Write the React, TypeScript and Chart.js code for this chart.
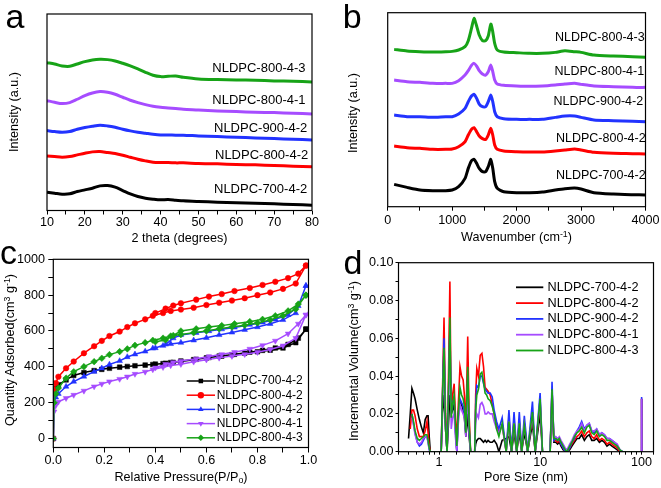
import React, { useEffect, useRef } from 'react';
import { Chart, registerables } from 'chart.js';

Chart.register(...registerables);

const FONT = "'Liberation Sans', Arial, Helvetica, sans-serif";

// ---------- shared series info ----------
const sampleNames = ['NLDPC-700-4-2', 'NLDPC-800-4-2', 'NLDPC-900-4-2', 'NLDPC-800-4-1', 'NLDPC-800-4-3'];
const sampleColors = ['#000000', '#ff0000', '#2233ff', '#a64cff', '#17a317'];
const drawOrder = [5, 4, 3, 2, 1];
const markerStyles = ['rect', 'circle', 'triangle', 'triangleDown', 'rectRot'];

// ---------- (a) XRD ----------
const xrdAngle = [10, 12, 14, 16, 18, 20, 22, 24, 26, 28, 30, 32, 34, 36, 38, 40, 42, 44, 46, 50, 55, 60, 65, 70, 75, 80];
const xrd700_4_2 = [55, 52, 49, 50, 57, 62, 67, 74, 75, 70, 60, 50, 42, 37, 34, 32, 33, 31, 29, 27, 25, 23, 22, 20, 18, 16];
const xrd800_4_2 = [164, 162, 160, 162, 167, 172, 176, 177, 174, 171, 166, 160, 154, 149, 145, 144, 144, 143, 143, 141, 140, 138, 137, 135, 133, 131];
const xrd900_4_2 = [240, 237, 235, 237, 244, 249, 253, 256, 254, 250, 244, 239, 235, 232, 229, 227, 227, 226, 226, 224, 222, 220, 218, 216, 214, 212];
const xrd800_4_1 = [330, 325, 321, 324, 334, 345, 353, 357, 355, 349, 340, 331, 324, 318, 313, 310, 308, 306, 304, 302, 299, 297, 295, 294, 292, 290];
const xrd800_4_3 = [444, 440, 434, 433, 440, 447, 452, 454, 453, 449, 442, 434, 425, 415, 406, 402, 403, 404, 400, 395, 393, 392, 391, 389, 388, 386];
const xrdTickLabels = [10, 20, 30, 40, 50, 60, 70, 80];

// ---------- (b) Raman ----------
const ramanShift = [100, 300, 500, 700, 900, 1000, 1100, 1200, 1250, 1300, 1340, 1380, 1420, 1470, 1520, 1560, 1600, 1630, 1660, 1700, 1800, 2000, 2200, 2400, 2600, 2750, 2900, 3000, 3200, 3500, 3800, 4000];
const raman700_4_2 = [67, 58, 50, 48, 48, 50, 60, 85, 115, 138, 142, 130, 115, 105, 105, 120, 142, 115, 75, 55, 45, 42, 42, 44, 50, 54, 56, 53, 42, 38, 36, 35];
const raman800_4_2 = [182, 177, 175, 172, 172, 173, 180, 195, 215, 232, 237, 225, 212, 204, 202, 215, 235, 215, 185, 172, 167, 165, 164, 164, 167, 170, 173, 170, 163, 160, 159, 158];
const raman900_4_2 = [275, 270, 270, 268, 270, 270, 278, 295, 315, 332, 337, 325, 308, 300, 300, 315, 335, 315, 285, 270, 264, 262, 262, 262, 268, 272, 272, 268, 260, 258, 256, 255];
const raman800_4_1 = [380, 375, 373, 370, 370, 370, 378, 395, 408, 424, 430, 422, 408, 398, 395, 405, 425, 405, 380, 368, 364, 362, 361, 362, 365, 368, 370, 367, 362, 360, 358, 358];
const raman800_4_3 = [472, 467, 465, 464, 465, 466, 470, 480, 498, 535, 565, 542, 515, 498, 498, 512, 548, 525, 490, 470, 464, 462, 460, 460, 463, 468, 465, 463, 455, 452, 450, 448];
const ramanTickLabels = [0, 1000, 2000, 3000, 4000];

// ---------- (c) N2 isotherms ----------
const adsPressure = [0, 0.003, 0.01, 0.02, 0.05, 0.08, 0.12, 0.16, 0.19, 0.22, 0.26, 0.29, 0.32, 0.36, 0.39, 0.43, 0.46, 0.5, 0.55, 0.6, 0.65, 0.7, 0.75, 0.8, 0.85, 0.9, 0.95, 0.99];
const desPressure = [0.99, 0.96, 0.92, 0.87, 0.82, 0.77, 0.71, 0.66, 0.61, 0.56, 0.5, 0.47, 0.44, 0.4];
const ads700_4_2 = [0, 250, 282, 300, 327, 352, 368, 379, 386, 392, 398, 402, 406, 410, 413, 418, 424, 430, 440, 450, 460, 468, 476, 484, 493, 505, 535, 610];
const des700_4_2 = [610, 560, 525, 505, 492, 482, 470, 460, 452, 442, 432, 425, 420, 415];
const ads800_4_2 = [0, 270, 310, 345, 392, 430, 476, 515, 545, 572, 597, 622, 643, 665, 685, 700, 712, 720, 730, 745, 758, 770, 783, 800, 815, 835, 865, 965];
const des800_4_2 = [965, 920, 895, 875, 857, 840, 823, 806, 792, 775, 755, 742, 725, 700];
const ads900_4_2 = [0, 200, 230, 250, 290, 318, 346, 373, 392, 413, 433, 455, 470, 486, 503, 518, 528, 535, 548, 562, 578, 592, 607, 622, 640, 662, 700, 852];
const des900_4_2 = [852, 740, 690, 665, 648, 635, 620, 610, 600, 590, 578, 560, 525, 505];
const ads800_4_1 = [0, 150, 185, 205, 225, 243, 266, 290, 305, 318, 332, 345, 360, 372, 385, 398, 408, 415, 428, 440, 450, 460, 470, 482, 497, 518, 560, 690];
const des800_4_1 = [690, 640, 585, 545, 520, 500, 482, 470, 458, 445, 432, 425, 415, 395];
const ads800_4_3 = [0, 200, 250, 282, 337, 373, 401, 429, 448, 468, 485, 500, 520, 535, 548, 560, 572, 580, 590, 600, 612, 622, 632, 645, 662, 685, 722, 800];
const des800_4_3 = [800, 750, 712, 685, 665, 652, 640, 630, 622, 612, 600, 575, 550, 540];

// ---------- (d) pore size distribution ----------
const poreSize = [
  0.50, 0.52, 0.54, 0.56, 0.58, 0.61, 0.64, 0.67, 0.70, 0.73,
  0.76, 0.78, 0.80, 0.82, 1.05, 1.08, 1.12, 1.16, 1.20, 1.24,
  1.28, 1.32, 1.36, 1.41, 1.45, 1.50, 1.55, 1.61, 1.67, 1.73,
  1.78, 1.84, 1.92, 1.98, 2.05, 2.25, 2.30, 2.36, 2.45, 2.55,
  2.65, 2.75, 2.85, 2.95, 3.05, 3.20, 3.35, 3.50, 3.70, 3.90,
  4.20, 4.60, 4.90, 5.20, 5.50, 5.85, 6.20, 6.55, 6.95, 7.50,
  8.36, 8.90, 9.95, 10.5, 12.5, 13.05, 13.6, 14.2, 14.8, 15.4,
  16.0, 16.8, 17.6, 18.3, 19.5, 20.5, 21.7, 23.0, 24.2, 25.6,
  27.2, 28.8, 30.4, 32.2, 34.0, 36.0, 38.3, 40.5, 43.0, 45.5,
  48.2, 51.0, 54.0, 57.5, 61.0, 65.0, 99.0, 100
];
const psd700_4_2 = [
  0.007, 0.020, 0.0335, 0.031, 0.028, 0.022, 0.017, 0.013, 0.010, 0.017,
  0.019, 0.019, 0.008, 0, 0, 0.020, 0.030, 0.012, 0, 0.015,
  0.030, 0.020, 0.022, 0.025, 0.012, 0, 0.020, 0.027, 0.025, 0.022,
  0.018, 0.008, 0.020, 0.008, 0, 0, 0.004, 0.006, 0.007, 0.007,
  0.006, 0.005, 0.006, 0.005, 0.006, 0.005, 0.005, 0.006, 0.004, 0,
  0.006, 0.007, 0.008, 0, 0.010, 0, 0.010, 0, 0.010, 0,
  0.015, 0, 0.020, 0, 0, 0.028, 0.005, 0.005, 0.004, 0.005,
  0.003, 0.001, 0, 0, 0.001, 0.003, 0.005, 0.007, 0.007, 0.009,
  0.006, 0.008, 0.009, 0.006, 0.006, 0.007, 0.005, 0.006, 0.005, 0.003,
  0.004, 0.003, 0.002, 0.001, 0, 0, 0, 0.028
];
const psd800_4_2 = [
  null, 0.012, 0.022, 0.022, 0.019, 0.012, 0.008, 0.008, 0.008, 0.011,
  0.016, 0.010, 0.003, 0, 0, 0.030, 0.071, 0.020, 0, 0.040,
  0.090, 0.020, 0.030, 0.036, 0.020, 0.005, 0.025, 0.045, 0.040, 0.038,
  0.030, 0.012, 0.061, 0.020, 0, 0, 0.030, 0.044, 0.040, 0.051,
  0.052, 0.045, 0.034, 0.033, 0.032, 0.030, 0.025, 0.020, 0.014, 0.010,
  0.014, 0, 0.018, 0, 0.017, 0, 0.016, 0, 0.015, 0,
  0.020, 0, 0.026, 0, 0, 0.033, 0.006, 0.006, 0.005, 0.006,
  0.004, 0.002, 0, 0, 0.002, 0.004, 0.006, 0.008, 0.009, 0.011,
  0.008, 0.010, 0.011, 0.008, 0.007, 0.009, 0.006, 0.007, 0.006, 0.004,
  0.005, 0.004, 0.003, 0.002, 0, 0, 0, 0.028
];
const psd900_4_2 = [
  null, null, 0.020, 0.015, 0.010, 0.005, 0.003, 0.004, 0.006, 0.008,
  0.008, 0.005, 0.001, 0, 0, 0.028, 0.060, 0.015, 0, 0.030,
  0.065, 0.020, 0.026, 0.028, 0.012, 0, 0.020, 0.028, 0.026, 0.024,
  0.020, 0.010, 0.040, 0.012, 0, 0, 0.025, 0.035, 0.034, 0.040,
  0.040, 0.036, 0.033, 0.032, 0.031, 0.031, 0.029, 0.022, 0.016, 0.012,
  0.018, 0, 0.022, 0, 0.021, 0, 0.021, 0, 0.019, 0,
  0.0265, 0, 0.031, 0, 0, 0.037, 0.006, 0.007, 0.006, 0.007,
  0.004, 0.002, 0, 0, 0.002, 0.005, 0.007, 0.011, 0.013, 0.016,
  0.012, 0.014, 0.015, 0.011, 0.010, 0.012, 0.009, 0.010, 0.009, 0.007,
  0.007, 0.006, 0.005, 0.003, 0.001, 0, 0, 0.029
];
const psd800_4_1 = [
  null, null, 0.018, 0.014, 0.009, 0.005, 0.004, 0.005, 0.007, 0.008,
  0.008, 0.005, 0.001, 0, 0, 0.025, 0.050, 0.012, 0, 0.028,
  0.060, 0.012, 0.018, 0.020, 0.008, 0, 0.015, 0.025, 0.022, 0.020,
  0.018, 0.008, 0.035, 0.010, 0, 0, 0.015, 0.020, 0.018, 0.025,
  0.026, 0.024, 0.020, 0.020, 0.021, 0.020, 0.020, 0.016, 0.012, 0.010,
  0.014, 0, 0.016, 0, 0.015, 0, 0.015, 0, 0.014, 0,
  0.020, 0, 0.027, 0, 0, 0.032, 0.008, 0.008, 0.007, 0.008,
  0.006, 0.004, 0.002, 0.001, 0.004, 0.006, 0.009, 0.011, 0.012, 0.015,
  0.011, 0.014, 0.015, 0.011, 0.011, 0.012, 0.009, 0.010, 0.009, 0.007,
  0.007, 0.006, 0.005, 0.004, 0.001, 0, 0, 0.028
];
const psd800_4_3 = [
  null, null, 0.020, 0.016, 0.011, 0.007, 0.006, 0.007, 0.008, 0.009,
  0.009, 0.006, 0.002, 0, 0, 0.028, 0.055, 0.012, 0, 0.030,
  0.071, 0.018, 0.025, 0.030, 0.015, 0.003, 0.020, 0.034, 0.030, 0.028,
  0.024, 0.010, 0.045, 0.015, 0, 0, 0.022, 0.030, 0.033, 0.041,
  0.042, 0.037, 0.031, 0.030, 0.028, 0.027, 0.024, 0.020, 0.012, 0.008,
  0.015, 0, 0.016, 0, 0.015, 0, 0.015, 0, 0.014, 0,
  0.021, 0, 0.028, 0, 0, 0.033, 0.007, 0.007, 0.006, 0.007,
  0.005, 0.003, 0.001, 0, 0.003, 0.005, 0.008, 0.010, 0.011, 0.013,
  0.010, 0.013, 0.014, 0.010, 0.009, 0.011, 0.008, 0.009, 0.008, 0.006,
  0.006, 0.005, 0.004, 0.003, 0.001, 0, 0, 0
];
const psdTickLabels = [1, 10, 100];

// ---------- layout helpers ----------
type Rect = { x: number; y: number; w: number; h: number };
type Plot = { l: number; t: number; r: number; b: number };

const tickFont = { family: FONT, size: 12.6 };

function fitY(canvas: Rect, plot: Plot) {
  return (s: any) => {
    s.width = plot.l - canvas.x;
    s.paddingTop = 0;
    s.paddingBottom = 0;
  };
}
function fitX(canvas: Rect, plot: Plot) {
  return (s: any) => {
    s.height = canvas.y + canvas.h - plot.b;
    s.paddingLeft = 0;
    s.paddingRight = 0;
  };
}

const framePlugin = {
  id: 'frame',
  afterDraw(chart: any) {
    const { ctx, chartArea: a } = chart;
    ctx.save();
    ctx.strokeStyle = '#000';
    ctx.lineWidth = 1.2;
    ctx.strokeRect(a.left, a.top, a.right - a.left, a.bottom - a.top);
    ctx.restore();
  },
};

function drawMarker(ctx: CanvasRenderingContext2D, style: string, x: number, y: number, r: number) {
  ctx.beginPath();
  if (style === 'circle') {
    ctx.arc(x, y, r, 0, Math.PI * 2);
  } else if (style === 'rect') {
    const s = r * Math.SQRT1_2;
    ctx.rect(x - s, y - s, 2 * s, 2 * s);
  } else if (style === 'triangle' || style === 'triangleDown') {
    const d = style === 'triangle' ? -1 : 1;
    for (let k = 0; k < 3; k++) {
      const ang = (k * 2 * Math.PI) / 3;
      const px = x + r * Math.sin(ang);
      const py = y + d * r * Math.cos(ang);
      if (k === 0) ctx.moveTo(px, py);
      else ctx.lineTo(px, py);
    }
    ctx.closePath();
  } else if (style === 'rectRot') {
    ctx.moveTo(x, y - r);
    ctx.lineTo(x + r, y);
    ctx.lineTo(x, y + r);
    ctx.lineTo(x - r, y);
    ctx.closePath();
  }
  ctx.fill();
}

function legendPlugin(cfg: { x0: number; x1: number; tx: number; y0: number; dy: number; size: number; lw: number; markers: boolean }) {
  return {
    id: 'customLegend',
    afterDraw(chart: any) {
      const ctx: CanvasRenderingContext2D = chart.ctx;
      ctx.save();
      sampleNames.forEach((name, i) => {
        const y = cfg.y0 + i * cfg.dy;
        ctx.strokeStyle = sampleColors[i];
        ctx.fillStyle = sampleColors[i];
        ctx.lineWidth = cfg.lw;
        ctx.beginPath();
        ctx.moveTo(cfg.x0, y);
        ctx.lineTo(cfg.x1, y);
        ctx.stroke();
        if (cfg.markers) drawMarker(ctx, markerStyles[i], (cfg.x0 + cfg.x1) / 2, y, 3.2);
        ctx.fillStyle = '#000';
        ctx.font = `${cfg.size}px ${FONT}`;
        ctx.textBaseline = 'middle';
        ctx.textAlign = 'left';
        ctx.fillText(name, cfg.tx, y);
      });
      ctx.restore();
    },
  };
}

function baseOptions(canvas: Rect, plot: Plot, hasY: boolean) {
  return {
    responsive: false,
    animation: false,
    devicePixelRatio: 1,
    events: [],
    layout: {
      padding: {
        left: hasY ? 0 : plot.l - canvas.x,
        top: plot.t - canvas.y,
        right: canvas.x + canvas.w - plot.r,
        bottom: 0,
      },
    },
    plugins: { legend: { display: false }, tooltip: { enabled: false } },
  };
}

function tickGrid(len: number) {
  return { display: true, drawOnChartArea: false, drawTicks: true, tickLength: len, color: '#000', lineWidth: 1 };
}

// ---------- chart builders ----------
const rectA: Rect = { x: 0, y: 0, w: 330, h: 244 };
const plotA: Plot = { l: 47, t: 14, r: 312, b: 210.5 };
const rectB: Rect = { x: 330, y: 0, w: 331, h: 244 };
const plotB: Plot = { l: 387.7, t: 12.7, r: 645.5, b: 206.7 };
const rectC: Rect = { x: 0, y: 244, w: 330, h: 244 };
const plotC: Plot = { l: 53.3, t: 259.3, r: 308.5, b: 447.5 };
const rectD: Rect = { x: 330, y: 244, w: 331, h: 244 };
const plotD: Plot = { l: 398.5, t: 262.7, r: 653.5, b: 451.7 };

function buildA() {
  const series = [xrd700_4_2, xrd800_4_2, xrd900_4_2, xrd800_4_1, xrd800_4_3];
  return {
    type: 'line',
    data: {
      datasets: series.map((ys, i) => ({
        label: sampleNames[i],
        data: xrdAngle.map((x, k) => ({ x, y: ys[k] })),
        borderColor: sampleColors[i],
        borderWidth: 3,
        pointRadius: 0,
        tension: 0.3,
        order: drawOrder[i],
      })),
    },
    options: {
      ...baseOptions(rectA, plotA, false),
      scales: {
        x: {
          type: 'linear', min: 10, max: 80,
          ticks: { stepSize: 5, autoSkip: false, maxRotation: 0, color: '#000', font: tickFont, padding: 0.5,
            callback: (v: number) => (xrdTickLabels.includes(v) ? String(v) : '') },
          grid: tickGrid(4), border: { display: false },
          afterFit: fitX(rectA, plotA),
        },
        y: { display: false, min: 0, max: 590 },
      },
    },
    plugins: [framePlugin],
  };
}

function buildB() {
  const series = [raman700_4_2, raman800_4_2, raman900_4_2, raman800_4_1, raman800_4_3];
  return {
    type: 'line',
    data: {
      datasets: series.map((ys, i) => ({
        label: sampleNames[i],
        data: ramanShift.map((x, k) => ({ x, y: ys[k] })),
        borderColor: sampleColors[i],
        borderWidth: 3,
        pointRadius: 0,
        tension: 0.2,
        order: drawOrder[i],
      })),
    },
    options: {
      ...baseOptions(rectB, plotB, false),
      scales: {
        x: {
          type: 'linear', min: 0, max: 4000,
          ticks: { stepSize: 500, autoSkip: false, maxRotation: 0, color: '#000', font: tickFont, padding: 1.8,
            callback: (v: number) => (ramanTickLabels.includes(v) ? String(v) : '') },
          grid: tickGrid(4), border: { display: false },
          afterFit: fitX(rectB, plotB),
        },
        y: { display: false, min: 0, max: 582 },
      },
    },
    plugins: [framePlugin],
  };
}

function buildC() {
  const ads = [ads700_4_2, ads800_4_2, ads900_4_2, ads800_4_1, ads800_4_3];
  const des = [des700_4_2, des800_4_2, des900_4_2, des800_4_1, des800_4_3];
  return {
    type: 'line',
    data: {
      datasets: ads.map((ys, i) => ({
        label: sampleNames[i],
        data: [
          ...adsPressure.map((x, k) => ({ x, y: ys[k] })),
          ...desPressure.map((x, k) => ({ x, y: des[i][k] })),
        ],
        borderColor: sampleColors[i],
        backgroundColor: sampleColors[i],
        borderWidth: 1.5,
        pointStyle: markerStyles[i] === 'triangleDown' ? 'triangle' : markerStyles[i],
        rotation: markerStyles[i] === 'triangleDown' ? 180 : 0,
        pointRadius: markerStyles[i] === 'circle' ? 2.8 : 3.3,
        pointBackgroundColor: sampleColors[i],
        pointBorderColor: sampleColors[i],
        pointBorderWidth: 0.5,
        tension: 0,
        order: drawOrder[i],
      })),
    },
    options: {
      ...baseOptions(rectC, plotC, true),
      scales: {
        x: {
          type: 'linear', min: 0, max: 1,
          ticks: { stepSize: 0.1, autoSkip: false, maxRotation: 0, color: '#000', font: tickFont, padding: 0.5,
            callback: (v: number) => (Math.round(v * 10) % 2 === 0 ? v.toFixed(1) : '') },
          grid: tickGrid(5), border: { display: false },
          afterFit: fitX(rectC, plotC),
        },
        y: {
          type: 'linear', min: -50, max: 1000,
          ticks: { stepSize: 100, includeBounds: false, autoSkip: false, color: '#000', font: tickFont, padding: 3.3,
            callback: (v: number) => (v >= 0 && Math.round(v) % 200 === 0 ? String(Math.round(v)) : '') },
          grid: tickGrid(5), border: { display: false },
          afterFit: fitY(rectC, plotC),
        },
      },
    },
    plugins: [framePlugin, legendPlugin({ x0: 186.7, x1: 215, tx: 216.7, y0: 137, dy: 14.2, size: 12, lw: 1.5, markers: true })],
  };
}

function buildD() {
  const series = [psd700_4_2, psd800_4_2, psd900_4_2, psd800_4_1, psd800_4_3];
  return {
    type: 'line',
    data: {
      datasets: series.map((ys, i) => ({
        label: sampleNames[i],
        data: poreSize.map((x, k) => ({ x, y: ys[k] })),
        borderColor: sampleColors[i],
        borderWidth: 1.6,
        pointRadius: 0,
        tension: 0,
        spanGaps: false,
        order: drawOrder[i],
      })),
    },
    options: {
      ...baseOptions(rectD, plotD, true),
      scales: {
        x: {
          type: 'logarithmic', min: 0.398, max: 131,
          ticks: { autoSkip: false, maxRotation: 0, color: '#000', font: tickFont, padding: 0,
            callback: (v: number) => {
              const hit = psdTickLabels.find((t) => Math.abs(t - v) < 1e-6 * t);
              return hit !== undefined ? String(hit) : '';
            } },
          grid: tickGrid(3), border: { display: false },
          afterFit: fitX(rectD, plotD),
        },
        y: {
          type: 'linear', min: 0, max: 0.1,
          ticks: { stepSize: 0.01, autoSkip: false, color: '#000', font: tickFont, padding: 2,
            callback: (v: number) => (Math.round(v * 100) % 2 === 0 ? v.toFixed(2) : '') },
          grid: tickGrid(3), border: { display: false },
          afterFit: fitY(rectD, plotD),
        },
      },
    },
    plugins: [framePlugin, legendPlugin({ x0: 186, x1: 213.3, tx: 217.5, y0: 43.3, dy: 15.8, size: 12.7, lw: 1.8, markers: false })],
  };
}

// ---------- React ----------
function ChartCanvas({ rect, build }: { rect: Rect; build: () => any }) {
  const ref = useRef<HTMLCanvasElement | null>(null);
  useEffect(() => {
    const chart = new Chart(ref.current as HTMLCanvasElement, build());
    return () => chart.destroy();
  }, []);
  return (
    <canvas
      ref={ref}
      width={rect.w}
      height={rect.h}
      style={{ position: 'absolute', left: rect.x, top: rect.y, width: rect.w, height: rect.h }}
    />
  );
}

function Txt({ x, y, size = 12.6, rotate = false, center = true, children }: any) {
  return (
    <div
      style={{
        position: 'absolute',
        left: x,
        top: y,
        fontFamily: FONT,
        fontSize: size,
        color: '#000',
        whiteSpace: 'nowrap',
        lineHeight: 'normal',
        transform: `translate(${center ? '-50%' : '0'}, -50%)${rotate ? ' rotate(-90deg)' : ''}`,
      }}
    >
      {children}
    </div>
  );
}

function Letter({ x, y, children }: any) {
  return (
    <div style={{ position: 'absolute', left: x, top: y, fontFamily: FONT, fontSize: 34, lineHeight: 1, color: '#000' }}>
      {children}
    </div>
  );
}

const sup: React.CSSProperties = { fontSize: '0.7em', position: 'relative', top: '-0.45em' };
const sub: React.CSSProperties = { fontSize: '0.7em', position: 'relative', top: '0.3em' };

const labelsA = [
  { name: 'NLDPC-800-4-3', x: 212.3, y: 67 },
  { name: 'NLDPC-800-4-1', x: 212.3, y: 99 },
  { name: 'NLDPC-900-4-2', x: 214, y: 127 },
  { name: 'NLDPC-800-4-2', x: 215, y: 154 },
  { name: 'NLDPC-700-4-2', x: 214, y: 188.3 },
];
const labelsB = [
  { name: 'NLDPC-800-4-3', x: 555, y: 37 },
  { name: 'NLDPC-800-4-1', x: 554.5, y: 71.2 },
  { name: 'NLDPC-900-4-2', x: 553.5, y: 100.5 },
  { name: 'NLDPC-800-4-2', x: 556, y: 137.8 },
  { name: 'NLDPC-700-4-2', x: 556, y: 175.3 },
];

export default function App() {
  return (
    <div style={{ position: 'fixed', left: 0, top: 0, width: 661, height: 488, background: '#fff', overflow: 'hidden' }}>
      <ChartCanvas rect={rectA} build={buildA} />
      <ChartCanvas rect={rectB} build={buildB} />
      <ChartCanvas rect={rectC} build={buildC} />
      <ChartCanvas rect={rectD} build={buildD} />

      {labelsA.map((l) => (
        <Txt key={'a' + l.name} x={l.x} y={l.y} size={13} center={false}>{l.name}</Txt>
      ))}
      {labelsB.map((l) => (
        <Txt key={'b' + l.name} x={l.x} y={l.y} size={12.5} center={false}>{l.name}</Txt>
      ))}

      <Txt x={179.5} y={237.5}>2 theta (degrees)</Txt>
      <Txt x={516.5} y={236.5}>Wavenumber (cm<span style={sup}>-1</span>)</Txt>
      <Txt x={181} y={476.5}>Relative Pressure(P/P<span style={sub}>o</span>)</Txt>
      <Txt x={526} y={476.5}>Pore Size (nm)</Txt>

      <Txt x={14} y={112} rotate>Intensity (a.u.)</Txt>
      <Txt x={352.5} y={113} rotate>Intensity (a.u.)</Txt>
      <Txt x={9.5} y={350} rotate>Quantity Adsorbed(cm<span style={sup}>3</span> g<span style={sup}>-1</span>)</Txt>
      <Txt x={354} y={361} rotate>Incremental Volume(cm<span style={sup}>3</span> g<span style={sup}>-1</span>)</Txt>

      <Letter x={5.6} y={-0.8}>a</Letter>
      <Letter x={342.8} y={-0.8}>b</Letter>
      <Letter x={0} y={234.5}>c</Letter>
      <Letter x={343.5} y={244.5}>d</Letter>
    </div>
  );
}
